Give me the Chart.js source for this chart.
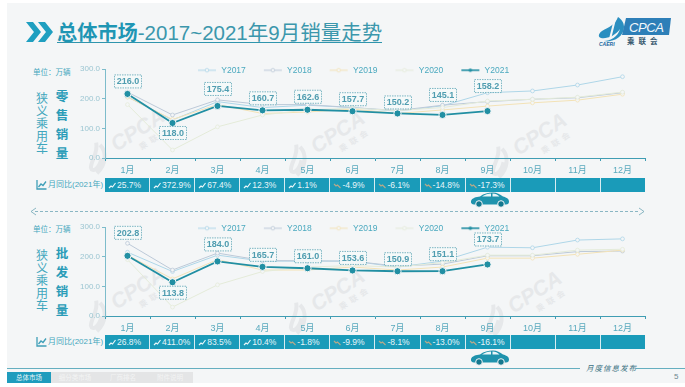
<!DOCTYPE html>
<html lang="zh">
<head>
<meta charset="utf-8">
<script src="https://cdn.jsdelivr.net/npm/chart.js@4"></script>
<style>
html,body{margin:0;padding:0;background:#fff;}
#page{position:relative;width:685px;height:387px;overflow:hidden;background:#fff;font-family:"Liberation Sans","Noto Sans CJK SC",sans-serif;}
#slide{position:absolute;left:7px;top:3px;width:678px;height:380px;background:#f4f6f7;}
.abs{position:absolute;white-space:nowrap;}
canvas{position:absolute;}
.vert{position:absolute;width:16px;text-align:center;font-family:"Noto Sans CJK SC",sans-serif;color:#3fa6bd;}
.strip{position:absolute;left:105px;width:540px;height:14px;display:flex;background:#1a9bb9;}
.strip div{flex:1;box-sizing:border-box;border-right:1px solid #d8edf2;color:#e8f6f9;font-size:8.5px;line-height:14px;padding-left:3px;white-space:nowrap;display:flex;align-items:center;gap:1px;}
.strip div:last-child{border-right:none;}
.mark{position:absolute;color:#e6e8ea;font:italic bold 21px "Liberation Sans",sans-serif;transform:rotate(-33deg);white-space:nowrap;}
.mark small{position:absolute;left:22px;top:22px;font:bold 8px "Noto Sans CJK SC",sans-serif;letter-spacing:4px;}
.mark svg{position:absolute;left:-34px;top:-2px;}
.tab{position:absolute;top:372px;height:11px;font:6.5px/11px "Noto Sans CJK SC",sans-serif;text-align:center;}
</style>
</head>
<body>
<div id="page">
  <div id="slide"></div>
  <div id="marks"></div>

  <svg class="abs" style="left:24px;top:20px" width="30" height="24" viewBox="0 0 30 24">
    <path d="M2 2h7l8 10-8 10H2l8-10z" fill="#1f9fc0"/>
    <path d="M14 2h7l8 10-8 10h-7l8-10z" fill="#1f9fc0"/>
  </svg>
  <div class="abs" style="left:57px;top:20px;height:22px;line-height:23px;font-size:20.5px;color:#3b97ac;border-bottom:1px solid #2f95ad;font-family:'Noto Sans CJK SC',sans-serif;"><b style="color:#1f96b4;font-size:20.2px">总体市场</b><span style="font-family:'Liberation Sans','Noto Sans CJK SC',sans-serif;">-2017~2021年9月销量走势</span></div>

  <svg class="abs" style="left:596px;top:15px" width="36" height="32" viewBox="0 0 36 32">
    <path d="M22 2c-3 8-9 10-16 14-4 3-4 6-1 7 6 1 14-2 19-9-2 8-10 12-16 12 8 2 20-4 20-14 0-5-3-8-6-10z" fill="#2b8fc0"/>
    <path d="M19 4l-5 20" stroke="#f4f6f7" stroke-width="2"/>
    <text x="3" y="31" font-size="5" font-weight="700" font-style="italic" fill="#20659e" font-family="Liberation Sans">CAERI</text>
  </svg>
  <svg class="abs" style="left:621px;top:17px" width="51" height="19" viewBox="0 0 51 19">
    <path d="M5 1h45l-2 17H1z" fill="#2d7fb8"/>
    <text x="8" y="14.5" font-size="13" font-style="italic" fill="#f2f8fb" font-family="Liberation Sans" textLength="35">CPCA</text>
  </svg>
  <div class="abs" style="left:627px;top:35px;font:bold 7.5px 'Noto Sans CJK SC',sans-serif;color:#35566d;letter-spacing:4px;">乘联会</div>

  <div class="abs" style="left:33px;top:66px;font-size:7.5px;color:#45a7bd;">单位：万辆</div>
  <div class="abs" style="left:33px;top:223px;font-size:7.5px;color:#45a7bd;">单位：万辆</div>

  <div class="vert" style="left:34px;top:92px;font-size:12px;line-height:12.6px;">狭<br>义<br>乘<br>用<br>车</div>
  <div class="vert" style="left:54px;top:86px;font-size:12.5px;line-height:19px;font-weight:700;color:#2a9cb8;">零<br>售<br>销<br>量</div>
  <div class="vert" style="left:34px;top:249px;font-size:12px;line-height:12.6px;">狭<br>义<br>乘<br>用<br>车</div>
  <div class="vert" style="left:54px;top:243px;font-size:12.5px;line-height:19px;font-weight:700;color:#2a9cb8;">批<br>发<br>销<br>量</div>

  <canvas id="retail" style="left:0;top:60px;" width="660" height="116"></canvas>
  <canvas id="wholesale" style="left:0;top:218px;" width="660" height="116"></canvas>

  <svg class="abs" style="left:36px;top:179px" width="11" height="11" viewBox="0 0 11 11"><path d="M1 1v9h9.500M2.500 8l2.500-3 2 1.500 3-4" fill="none" stroke="#3f9fb8" stroke-width="1.300"/></svg>
  <div class="abs" style="left:48px;top:179px;font-size:8px;line-height:12px;color:#45a7bd;">月同比(2021年)</div>
  <svg class="abs" style="left:36px;top:336px" width="11" height="11" viewBox="0 0 11 11"><path d="M1 1v9h9.500M2.500 8l2.500-3 2 1.500 3-4" fill="none" stroke="#3f9fb8" stroke-width="1.300"/></svg>
  <div class="abs" style="left:48px;top:336px;font-size:8px;line-height:12px;color:#45a7bd;">月同比(2021年)</div>
  <div class="strip" id="stripRetail" style="top:178px"></div>
  <div class="strip" id="stripWholesale" style="top:335px"></div>

  <svg class="abs" style="left:28px;top:207px" width="620" height="9" viewBox="0 0 620 9">
    <path d="M7 4.500H612" stroke="#6fa6b5" stroke-width="0.800" stroke-dasharray="3 2" fill="none"/>
    <path d="M8 1L3 4.500 8 8M611 1l5 3.500-5 3.500" stroke="#6fa6b5" stroke-width="0.800" fill="none"/>
  </svg>

  <svg class="abs car" style="left:470px;top:192px" width="40" height="16" viewBox="0 0 40 16"><use href="#carShape"/></svg>
  <svg class="abs car" style="left:470px;top:350px" width="40" height="16" viewBox="0 0 40 16"><use href="#carShape"/></svg>
  <svg width="0" height="0" style="position:absolute"><defs><g id="carShape">
    <path d="M1 9c1-3 5-4 9-4.500C14 1.500 18 .5 23 .5c4 0 7 2 10 4 3 .8 6 2 6 5 0 2-1 3-3 3H4C2 12.500 .5 11 1 9z" fill="#1f93ad"/>
    <path d="M12 4.500c3-2 6-3 9-3v3zM22.500 1.500c3 0 5 1 7 3h-7z" fill="#e9f5f8"/>
    <circle cx="9" cy="12" r="3.300" fill="#14788f" stroke="#f4f6f7"/><circle cx="31" cy="12" r="3.300" fill="#14788f" stroke="#f4f6f7"/>
  </g></defs></svg>

  <div class="abs" style="left:7px;top:368px;width:573px;height:1px;background:#65afc0;"></div>
  <div class="abs" style="left:636px;top:368px;width:49px;height:1px;background:#65afc0;"></div>
  <div class="abs" style="left:586px;top:362px;font:italic 7.5px 'Noto Sans CJK SC',serif;letter-spacing:1px;color:#39707f;">月度信息发布</div>
  <div class="abs" style="left:674px;top:372px;font-size:8px;color:#6d8790;">5</div>

  <div class="tab" style="left:7px;width:44px;background:#1f9cbd;color:#e6f5f9;">总体市场</div>
  <div class="tab" style="left:51px;width:48px;background:#e4e5e6;color:#f3f4f4;">细分类市场</div>
  <div class="tab" style="left:99px;width:48px;background:#e4e5e6;color:#f3f4f4;">厂商排名</div>
  <div class="tab" style="left:147px;width:46px;background:#e4e5e6;color:#f3f4f4;">附件说明</div>
</div>

<script>
const months = ["1月","2月","3月","4月","5月","6月","7月","8月","9月","10月","11月","12月"];
const axisTicks = [0,100,200,300];

const retail2017 = [206,128,190,170,178,170,158,176,220,226,246,274];
const retail2018 = [222,145,196,180,180,170,160,178,190,198,203,220];
const retail2019 = [205,130,180,150,155,165,150,162,175,186,195,215];
const retail2020 = [180,27,105,145,162,168,160,170,192,198,205,222];
const retail2021 = [216.0,118.0,175.4,160.7,162.6,157.7,150.2,145.1,158.2];
const retailYoY = ["25.7%","372.9%","67.4%","12.3%","1.1%","-4.9%","-6.1%","-14.8%","-17.3%"];

const whole2017 = [215,150,205,185,185,185,165,185,232,230,256,260];
const whole2018 = [245,155,212,187,186,185,168,175,203,203,217,219];
const whole2019 = [205,125,190,155,155,165,155,165,195,195,208,222];
const whole2020 = [190,30,105,150,165,170,165,180,205,205,222,225];
const whole2021 = [202.8,113.8,184.0,165.7,161.0,153.6,150.9,151.1,173.7];
const wholeYoY = ["26.8%","411.0%","83.5%","10.4%","-1.8%","-9.9%","-8.1%","-13.0%","-16.1%"];

// label box offset from its point, in pixels
const retailLabelShift = [-12.5,10,-17,-12,-13,-12,-11,-20,-25];
const wholeLabelShift  = [-23,10.5,-17,-12,-12,-12.5,-12,-17,-25];

const seriesStyle = {
  Y2017:{color:"#aed6e8"},
  Y2018:{color:"#bcc9d8"},
  Y2019:{color:"#f3e2b6"},
  Y2020:{color:"#e4ebd9"},
  Y2021:{color:"#218fa3"}
};
const FONT = '"Liberation Sans","Noto Sans CJK SC",sans-serif';

function legendMark(color, strong){
  const c = document.createElement("canvas");
  c.width = 20; c.height = 8;
  const g = c.getContext("2d");
  g.strokeStyle = color; g.lineWidth = strong ? 1.6 : 1;
  g.beginPath(); g.moveTo(1,4); g.lineTo(19,4); g.stroke();
  g.beginPath(); g.arc(10,4,1.8,0,Math.PI*2);
  g.fillStyle = strong ? color : "#f4f6f7"; g.fill();
  if(!strong){ g.lineWidth = .8; g.stroke(); }
  return c;
}

const placeLegend = {
  id:"placeLegend",
  beforeLayout(chart){
    const l = chart.legend;
    if(!l._flat){
      const fit = l.fit;
      l.fit = function(){ fit.call(this); this.height = 0; };
      l._flat = true;
    }
  },
  afterLayout(chart){
    const l = chart.legend;
    l.left = 180; l.right = 560; l.top = -11; l.bottom = 20;
  }
};

const labelBoxes = {
  id:"labelBoxes",
  afterDatasetsDraw(chart, args, opts){
    const meta = chart.getDatasetMeta(4), ds = chart.data.datasets[4], g = chart.ctx;
    g.save();
    g.font = "bold 9px " + FONT;
    g.textAlign = "center"; g.textBaseline = "middle";
    meta.data.forEach((p,i)=>{
      const cx = p.x + 0.5, cy = p.y + opts.shift[i];
      g.fillStyle = "rgba(244,248,249,.92)";
      g.fillRect(cx-13.5, cy-6.5, 27, 13);
      g.strokeStyle = "#4a9bad"; g.lineWidth = .7; g.setLineDash([1.5,1]);
      g.strokeRect(cx-13.5, cy-6.5, 27, 13);
      g.setLineDash([]);
      g.fillStyle = "#4f9db0";
      g.fillText(ds.data[i].toFixed(1), cx, cy+.5);
    });
    g.restore();
  }
};

function makeChart(id, series, shift){
  const names = Object.keys(seriesStyle);
  return new Chart(document.getElementById(id),{
    type:"line",
    data:{
      labels:months,
      datasets:series.map((values,i)=>{
        const strong = names[i]==="Y2021", color = seriesStyle[names[i]].color;
        return {
          label:names[i], data:values, borderColor:color,
          backgroundColor: strong?color:"#f4f6f7",
          borderWidth: strong?1.8:1, pointBorderWidth: strong?1:.8,
          pointBorderColor: strong?"#f4f6f7":color,
          pointBackgroundColor: strong?color:"#f4f6f7",
          pointRadius: strong?3.6:1.9, tension:0, fill:false,
          order: strong?0:5-i
        };
      })
    },
    options:{
      responsive:false, animation:false, devicePixelRatio:1,
      layout:{padding:{left:0,right:15,top:9,bottom:0}},
      plugins:{
        tooltip:{enabled:false},
        labelBoxes:{shift},
        legend:{
          display:true, position:"top", align:"start",
          labels:{
            color:"#4aa9bf", font:{size:8.5,family:FONT}, padding:17,
            boxHeight:8, usePointStyle:true, pointStyleWidth:20,
            generateLabels(chart){
              return chart.data.datasets.map((d,i)=>({
                text:d.label, datasetIndex:i, fontColor:"#4aa9bf", lineWidth:0,
                pointStyle:legendMark(d.borderColor,d.label==="Y2021"),
                strokeStyle:"transparent", fillStyle:"transparent"
              }));
            }
          }
        }
      },
      scales:{
        x:{
          type:"category", offset:true,
          border:{color:"#3f9db3",width:1},
          grid:{drawOnChartArea:false,drawTicks:true,tickLength:3,tickColor:"#3f9db3",offset:true},
          ticks:{color:"#58a9bd",font:{size:9,family:FONT},padding:4,autoSkip:false,maxRotation:0,minRotation:0},
          afterFit(s){s.height=18;}
        },
        y:{
          min:0,max:300,
          afterBuildTicks(s){s.ticks=axisTicks.map(v=>({value:v}));},
          border:{color:"#7dbccb",width:1},
          grid:{drawOnChartArea:false,drawTicks:true,tickLength:3,tickColor:"#7dbccb"},
          ticks:{color:"#9cc6d2",font:{size:8,family:FONT},padding:2,callback:v=>Number(v).toFixed(1)},
          afterFit(s){s.width=105;}
        }
      }
    },
    plugins:[labelBoxes,placeLegend]
  });
}

makeChart("retail",[retail2017,retail2018,retail2019,retail2020,retail2021],retailLabelShift);
makeChart("wholesale",[whole2017,whole2018,whole2019,whole2020,whole2021],wholeLabelShift);

function fillStrip(id, values){
  const host = document.getElementById(id);
  months.forEach((m,i)=>{
    const cell = document.createElement("div");
    const v = values[i];
    if(v){
      const down = v[0]==="-";
      const path = down ? "M1 2l2 2 1.500-1 3 3" : "M1 6l2-2 1.500 1 3-4";
      cell.innerHTML = '<svg width="8" height="7" viewBox="0 0 8 7" style="flex:none"><path d="'+path+'" fill="none" stroke="'+(down?"#b5a98a":"#eaf7fa")+'" stroke-width="1.200"/></svg><span>'+v+'</span>';
    }
    host.appendChild(cell);
  });
}
fillStrip("stripRetail",retailYoY);
fillStrip("stripWholesale",wholeYoY);

[[108,118],[308,120],[510,122],[108,276],[308,278],[505,280]].forEach(p=>{
  const d = document.createElement("div");
  d.className = "mark"; d.style.left = p[0]+"px"; d.style.top = p[1]+"px";
  d.innerHTML = '<svg width="30" height="34" viewBox="0 0 30 34"><path d="M22 2C18 12 8 14 4 20c-2 5 6 6 14-2M24 6c2 10-6 20-18 22" fill="none" stroke="#e6e8ea" stroke-width="4"/></svg>CPCA<small>乘联会</small>';
  document.getElementById("marks").appendChild(d);
});
</script>
</body>
</html>
